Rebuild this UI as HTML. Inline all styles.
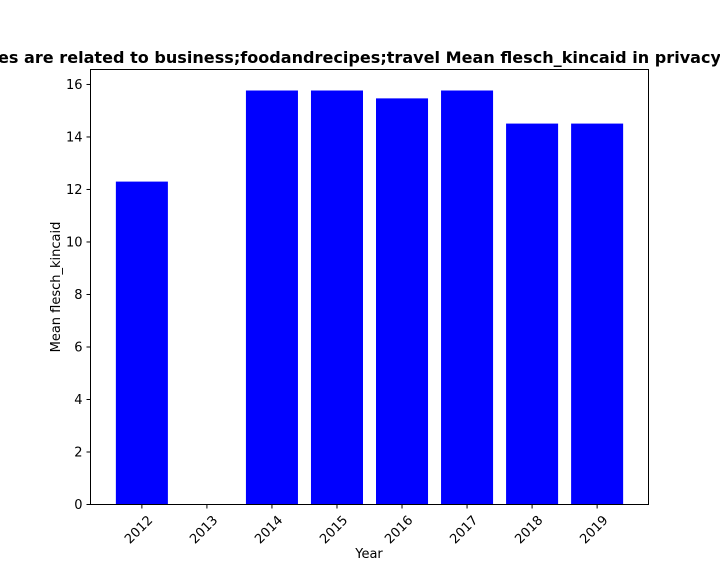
<!DOCTYPE html>
<html><head><meta charset="utf-8"><style>
body{margin:0;background:#fff;}
svg{display:block;font-family:"DejaVu Sans","Liberation Sans",sans-serif;}
</style></head><body>
<svg id="chart" width="720" height="576">
<text x="-2" y="63" font-size="16" font-weight="bold" fill="#000" textLength="723" lengthAdjust="spacingAndGlyphs">es are related to business;foodandrecipes;travel Mean flesch_kincaid in privacy</text>
<g id="plot"></g>
<rect x="90.5" y="69.5" width="558" height="435" fill="none" stroke="#000" stroke-width="1"/>
<text x="369" y="558" font-size="13" text-anchor="middle">Year</text>
<text transform="translate(60,287) rotate(-90)" font-size="13" text-anchor="middle">Mean flesch_kincaid</text>
</svg>
<script>
const categories=["2012","2013","2014","2015","2016","2017","2018","2019"];
const values=[12.3,0,15.77,15.77,15.47,15.77,14.51,14.51];
const yTicks=[0,2,4,6,8,10,12,14,16];
const NS="http://www.w3.org/2000/svg";
const g=document.getElementById('plot');
const L=90.5,R=648.5,T=69.5,B=504.5;
const xMin=-0.79,xMax=7.79,yMax=16.57;
const x=v=>L+(v-xMin)/(xMax-xMin)*(R-L);
const y=v=>B-v/yMax*(B-T);
function mk(t,a){const e=document.createElementNS(NS,t);for(const k in a)e.setAttribute(k,a[k]);g.appendChild(e);return e;}
categories.forEach((c,i)=>{
 const w=x(0.4)-x(-0.4);
 const b=mk('rect',{x:x(i)-w/2,y:y(values[i]),width:w,height:B-y(values[i]),fill:'#0000ff'});
 
 
 const tk=mk('line',{x1:x(i),x2:x(i),y1:B,y2:B+4,stroke:'#000'});
 
 
 const t=mk('text',{x:x(i)+5,y:B+10,'font-size':13,'text-anchor':'end',transform:`rotate(-45 ${x(i)+5} ${B+10})`,dy:'0.7em'});
 t.textContent=c;
 
 
});
yTicks.forEach(v=>{
 const tk=mk('line',{x1:L-4,x2:L,y1:y(v),y2:y(v),stroke:'#000'});
 
 
 const t=mk('text',{x:L-8,y:y(v)+4.5,'font-size':13,'text-anchor':'end'});
 t.textContent=v;
 
 
});
</script>
</body></html>
